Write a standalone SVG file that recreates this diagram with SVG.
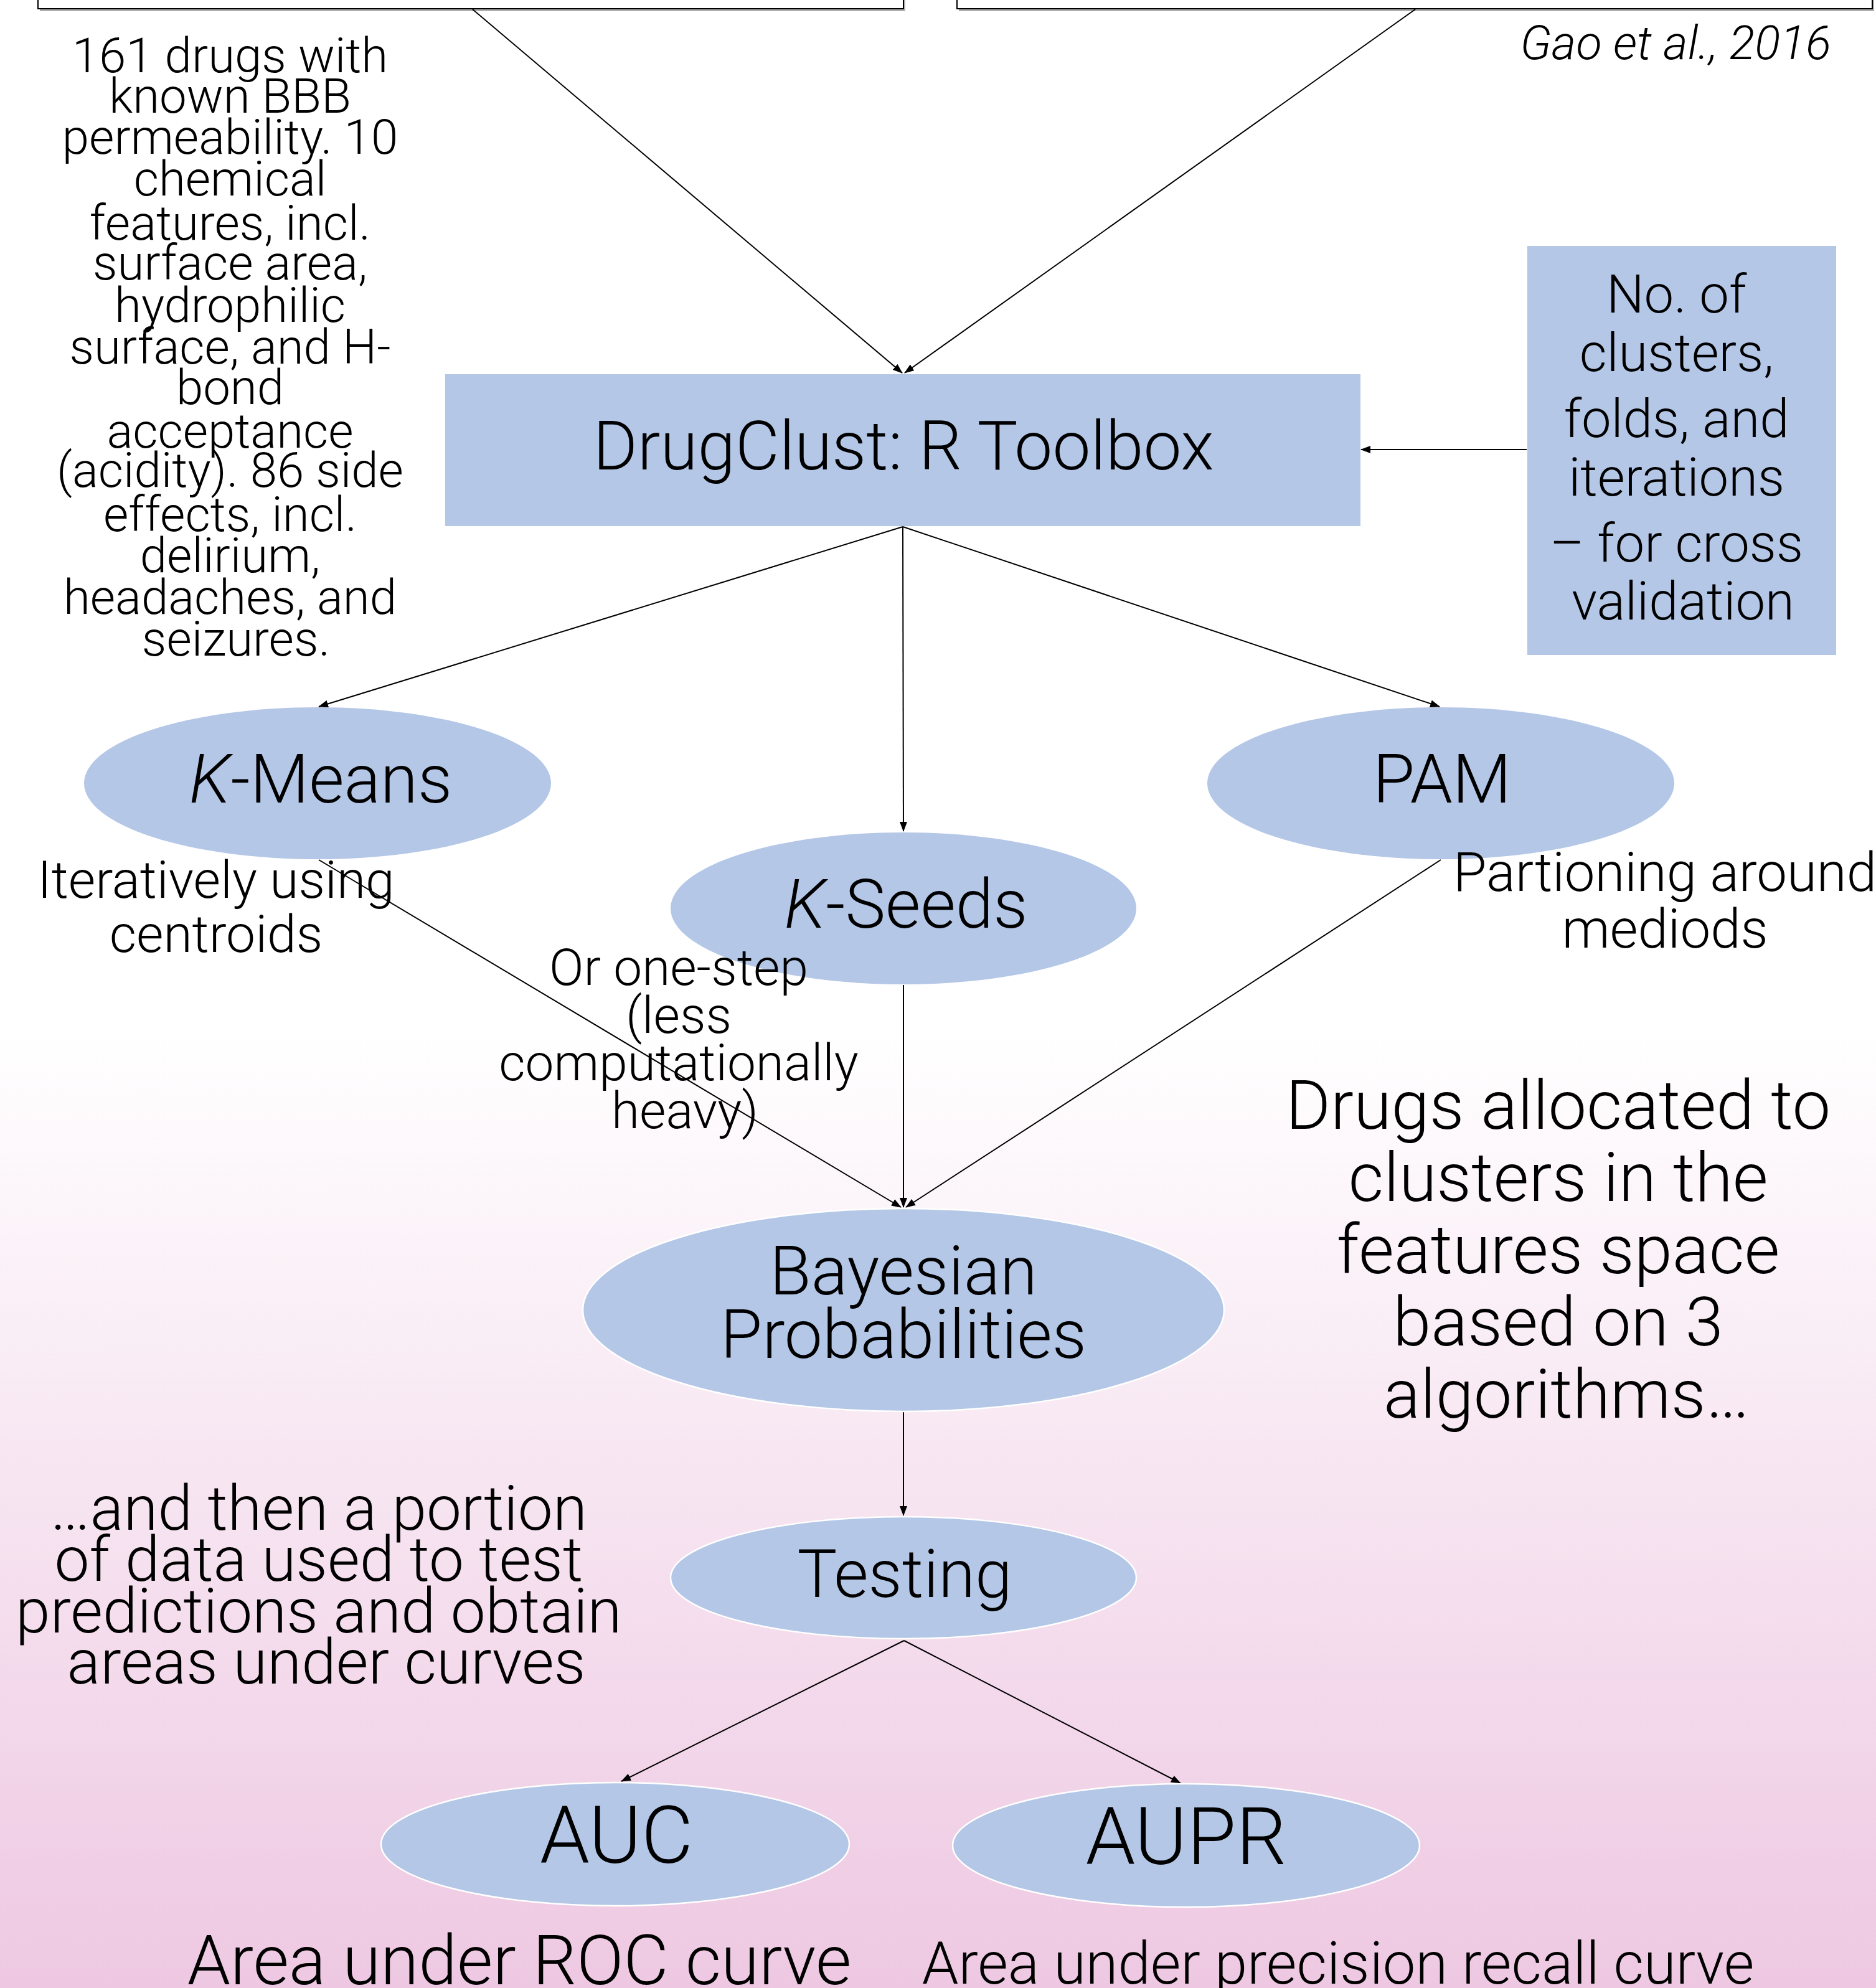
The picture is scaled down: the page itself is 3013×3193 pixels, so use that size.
<svg xmlns="http://www.w3.org/2000/svg" width="3013" height="3193" viewBox="0 0 3013 3193">
<defs>
<linearGradient id="bg" x1="0" y1="0" x2="0" y2="3193" gradientUnits="userSpaceOnUse">
<stop offset="0" stop-color="#ffffff"/>
<stop offset="0.52" stop-color="#ffffff"/>
<stop offset="1" stop-color="#eec8e2"/>
</linearGradient>
<marker id="ah" markerWidth="16" markerHeight="12" refX="15" refY="6" orient="auto" markerUnits="userSpaceOnUse">
<path d="M0,0 L16,6 L0,12 z" fill="#000"/>
</marker>
<style>
text{font-family:Roboto,"Liberation Sans",sans-serif;font-weight:300;fill:#000;text-anchor:middle}
.node{fill:#b4c7e7}
.onpink{stroke:#ffffff;stroke-width:2.5}
.lbl{font-size:109px}
.big{font-size:128px}
.note{font-size:84px}
.small{font-size:78px}
.edge{stroke:#000;stroke-width:2;fill:none;marker-end:url(#ah)}
</style>
</defs>
<rect x="0" y="0" width="3013" height="3193" fill="url(#bg)"/>

<g id="source-left">
<rect x="64" y="-60" width="1390" height="78" fill="#b0b0b0"/>
<rect x="61" y="-60" width="1390" height="74" fill="#ffffff" stroke="#000" stroke-width="2"/>
</g>
<g id="source-right">
<rect x="1540" y="-60" width="1470" height="78" fill="#b0b0b0"/>
<rect x="1537" y="-60" width="1470" height="74" fill="#ffffff" stroke="#000" stroke-width="2"/>
</g>

<g id="connectors">
<line class="edge" x1="759" y1="15" x2="1449" y2="599"/>
<line class="edge" x1="2273" y1="15" x2="1453" y2="599"/>
<line class="edge" x1="2452" y1="722" x2="2186" y2="722"/>
<line class="edge" x1="1450" y1="846" x2="512" y2="1135"/>
<line class="edge" x1="1450" y1="846" x2="1451" y2="1335"/>
<line class="edge" x1="1450" y1="846" x2="2312" y2="1135"/>
<line class="edge" x1="512" y1="1381" x2="1447" y2="1939"/>
<line class="edge" x1="1451" y1="1582" x2="1451" y2="1939"/>
<line class="edge" x1="2314" y1="1381" x2="1455" y2="1939"/>
<line class="edge" x1="1451" y1="2268" x2="1451" y2="2434"/>
<line class="edge" x1="1452" y1="2635" x2="998" y2="2861"/>
<line class="edge" x1="1452" y1="2635" x2="1896" y2="2864"/>
</g>

<g id="citation">
<text x="2941" y="95" style="font-size:76px;font-style:italic;text-anchor:end">Gao et al., 2016</text>
</g>

<g id="data-note">
<text class="small" x="379">
<tspan x="379" y="116">161 drugs with</tspan>
<tspan x="379" y="181">known BBB</tspan>
<tspan x="379" y="247">permeability. 10</tspan>
<tspan x="379" y="314">chemical</tspan>
<tspan x="379" y="385">features, incl.</tspan>
<tspan x="379" y="449">surface area,</tspan>
<tspan x="379" y="517">hydrophilic</tspan>
<tspan x="379" y="584">surface, and H-</tspan>
<tspan x="379" y="649">bond</tspan>
<tspan x="379" y="719">acceptance</tspan>
<tspan x="379" y="782">(acidity). 86 side</tspan>
<tspan x="379" y="853">effects, incl.</tspan>
<tspan x="379" y="919">delirium,</tspan>
<tspan x="379" y="986">headaches, and</tspan>
<tspan x="379" y="1053">seizures.</tspan>
</text>
</g>

<g id="params">
<rect class="node" x="2453" y="395" width="496" height="657"/>
<text style="font-size:85px" x="2703">
<tspan x="2703" y="502">No. of</tspan>
<tspan x="2703" y="596">clusters,</tspan>
<tspan x="2703" y="702">folds, and</tspan>
<tspan x="2703" y="796">iterations</tspan>
<tspan x="2703" y="902">– for cross</tspan>
<tspan x="2703" y="995">validation</tspan>
</text>
</g>

<g id="drugclust">
<rect class="node" x="715" y="601" width="1470" height="244"/>
<text class="lbl" x="1451" y="754">DrugClust: R Toolbox</text>
</g>

<g id="kmeans">
<ellipse class="node" cx="510" cy="1258" rx="375" ry="122"/>
<text class="lbl" x="515" y="1289"><tspan font-style="italic">K</tspan>-Means</text>
</g>
<g id="kmeans-note">
<text class="note" x="347"><tspan x="347" y="1442">Iteratively using</tspan><tspan x="347" y="1529">centroids</tspan></text>
</g>

<g id="kseeds">
<ellipse class="node" cx="1451" cy="1459" rx="374" ry="122"/>
<text class="lbl" x="1455" y="1490"><tspan font-style="italic">K</tspan>-Seeds</text>
</g>
<g id="kseeds-note">
<text style="font-size:82px" x="1100">
<tspan x="1100" y="1582">Or one-step</tspan>
<tspan x="1100" y="1659">(less</tspan>
<tspan x="1100" y="1735">computationally</tspan>
<tspan x="1100" y="1812">heavy)</tspan>
</text>
</g>

<g id="pam">
<ellipse class="node" cx="2314" cy="1258" rx="375" ry="122"/>
<text class="lbl" x="2316" y="1289">PAM</text>
</g>
<g id="pam-note">
<text style="font-size:87px" x="2674"><tspan x="2674" y="1431">Partioning around</tspan><tspan x="2674" y="1522">mediods</tspan></text>
</g>

<g id="allocation-note">
<text style="font-size:110px" x="2516">
<tspan x="2516" y="1813">Drugs allocated to</tspan>
<tspan x="2516" y="1929">clusters in the</tspan>
<tspan x="2516" y="2045">features space</tspan>
<tspan x="2516" y="2161">based on 3</tspan>
<tspan x="2516" y="2277">algorithms…</tspan>
</text>
</g>

<g id="bayesian">
<ellipse class="node onpink" cx="1451" cy="2104" rx="515" ry="163"/>
<text class="lbl" x="1451"><tspan x="1451" y="2079">Bayesian</tspan><tspan x="1451" y="2181">Probabilities</tspan></text>
</g>

<g id="testing">
<ellipse class="node onpink" cx="1451" cy="2534" rx="374" ry="98"/>
<text style="font-size:107px" x="1453" y="2565">Testing</text>
</g>
<g id="testing-note">
<text style="font-size:100px" x="524">
<tspan x="524" y="2457">…and then a portion</tspan>
<tspan x="524" y="2539">of data used to test</tspan>
<tspan x="524" y="2622">predictions and obtain</tspan>
<tspan x="524" y="2704">areas under curves</tspan>
</text>
</g>

<g id="auc">
<ellipse class="node onpink" cx="988" cy="2962" rx="376" ry="99"/>
<text class="big" x="990" y="2992">AUC</text>
</g>
<g id="auc-note">
<text style="font-size:111px" x="834" y="3187">Area under ROC curve</text>
</g>

<g id="aupr">
<ellipse class="node onpink" cx="1905" cy="2964" rx="375" ry="99"/>
<text class="big" x="1905" y="2994">AUPR</text>
</g>
<g id="aupr-note">
<text style="font-size:94px" x="2149" y="3186">Area under precision recall curve</text>
</g>
</svg>
